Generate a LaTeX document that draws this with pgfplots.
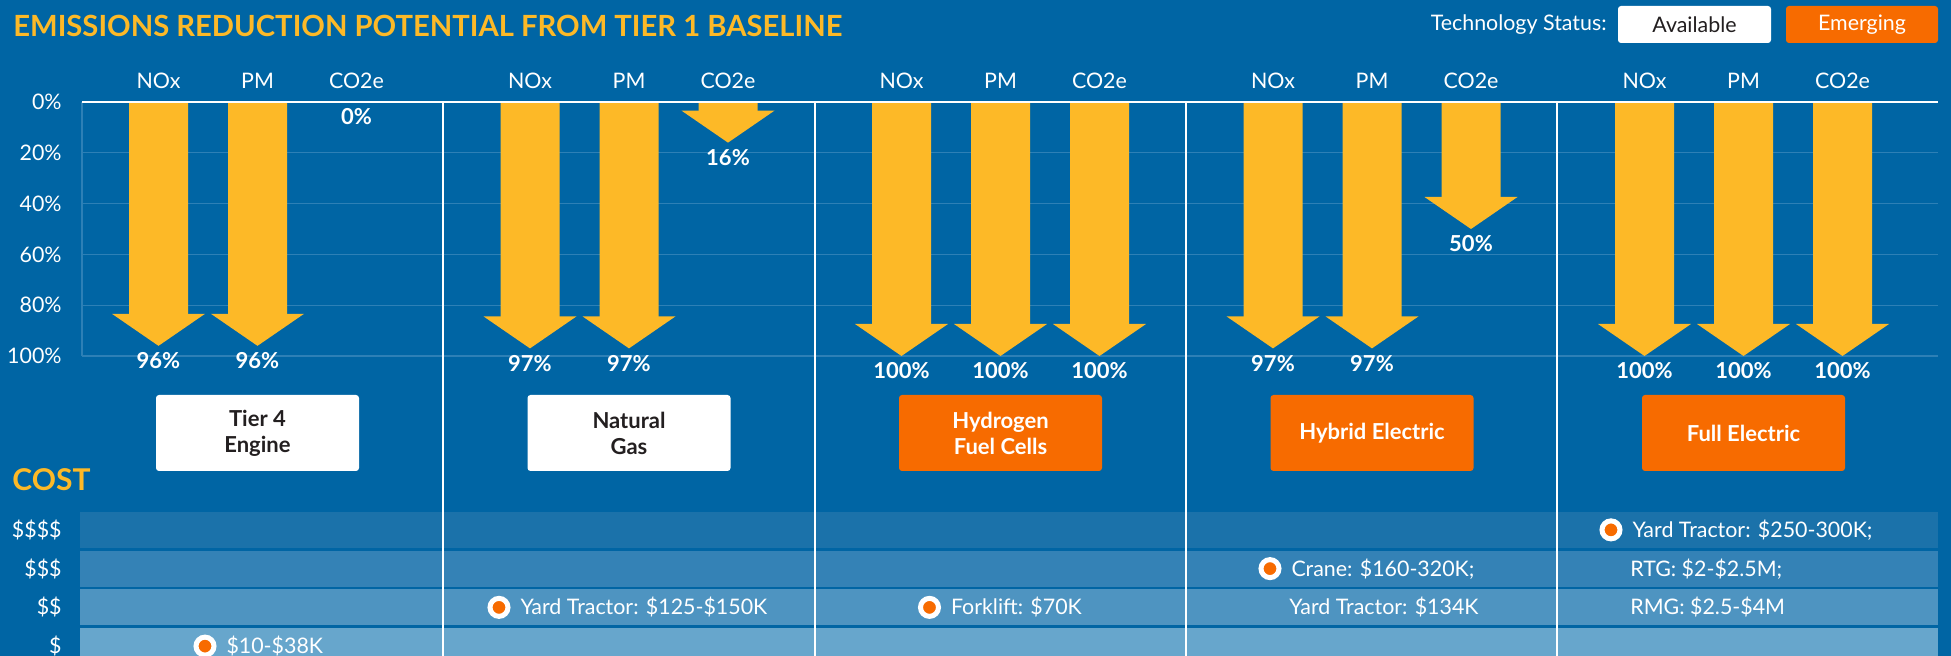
\documentclass[border=0pt]{standalone}
\usepackage{pgfplots}
\pgfplotsset{compat=1.18}
\usepackage{pgfplotstable}
\usepackage{fontspec}
\setmainfont{Lato}
\definecolor{bgblue}{RGB}{0,101,164}
\definecolor{ayellow}{RGB}{253,185,39}
\definecolor{aorange}{RGB}{247,107,0}
\definecolor{darktext}{RGB}{35,31,32}
\definecolor{gridc}{RGB}{45,128,182}
\definecolor{bandA}{RGB}{27,114,170}
\definecolor{bandB}{RGB}{52,130,182}
\definecolor{bandC}{RGB}{78,148,193}
\definecolor{bandD}{RGB}{103,166,204}

\pgfdeclareplotmark{dnhead}{%
  \pgfpathmoveto{\pgfqpoint{-23.25pt}{16pt}}%
  \pgfpathlineto{\pgfqpoint{23.25pt}{16pt}}%
  \pgfpathlineto{\pgfqpoint{0pt}{0pt}}%
  \pgfpathclose
  \pgfusepathqfill}

% g = technology group, m = pollutant (0 NOx, 1 PM, 2 CO2e), v = reduction in %
\pgfplotstableread{
g m v
0 0 96
0 1 96
0 2 0
1 0 97
1 1 97
1 2 16
2 0 100
2 1 100
2 2 100
3 0 97
3 1 97
3 2 50
4 0 100
4 1 100
4 2 100
}\emissions

\newcommand{\semi}{;}
% cost level: 1 = $, 4 = $$$$
\pgfplotstableread[col sep=comma]{
x,y,lab
205,1,\$10-\$38K
499,2,Yard Tractor: \$125-\$150K
929.5,2,Forklift: \$70K
1270,3,Crane: \$160-320K\semi
1611,4,Yard Tractor: \$250-300K\semi
}\costmarked
\pgfplotstableread[col sep=comma]{
x,y,lab
1270,2,Yard Tractor: \$134K
1611,3,RTG: \$2-\$2.5M\semi
1611,2,RMG: \$2.5-\$4M
}\costtext

\newcommand{\smallf}{\fontsize{10.7}{12.8}\selectfont}
\newcommand{\boldf}{\bfseries\fontsize{11}{13}\selectfont}

\begin{document}
\begin{tikzpicture}
\begin{scope}[x=0.5pt,y=-0.5pt]
\fill[bgblue] (0,0) rectangle (1951,656);
\end{scope}

% ---------- emissions axis ----------
\begin{axis}[
  at={(41pt,-51pt)}, anchor=north west,
  scale only axis, width=928pt, height=127pt,
  xmin=82, xmax=1938, ymin=0, ymax=100, y dir=reverse,
  clip=false,
  axis line style={draw=none},
  tick style={draw=none},
  ytick={0,20,40,60,80,100},
  yticklabels={0\%,20\%,40\%,60\%,80\%,100\%},
  yticklabel style={anchor=east, inner sep=0pt, xshift=-10pt, text=white, font=\smallf},
  ymajorgrids, grid style={gridc, line width=0.6pt},
  xtick={158.5,257.5,356.5,530,629,728,901.5,1000.5,1099.5,1273,1372,1471,1644.5,1743.5,1842.5},
  xticklabels={NOx,PM,CO2e,NOx,PM,CO2e,NOx,PM,CO2e,NOx,PM,CO2e,NOx,PM,CO2e},
  xticklabel pos=upper,
  xticklabel style={anchor=base, inner sep=0pt, yshift=6.75pt, text=white, font=\smallf},
]
\draw[gridc, line width=0.6pt] (axis cs:82,0) -- (axis cs:82,100);
% shafts
\addplot[ybar, bar width=29.5pt, bar shift=0pt, fill=ayellow, draw=none,
  restrict y to domain=0:200]
  table[x expr=158.5+371.5*\thisrow{g}+99*\thisrow{m}, y expr=\thisrow{v}-12.4] {\emissions};
% heads
\addplot[only marks, mark=dnhead, mark options={fill=ayellow, draw=none},
  restrict y to domain=0.5:200]
  table[x expr=158.5+371.5*\thisrow{g}+99*\thisrow{m}, y=v] {\emissions};
% labels
\addplot[draw=none, mark=none, point meta=explicit symbolic,
  nodes near coords={\pgfplotspointmeta\%},
  nodes near coords style={anchor=center, inner sep=0pt, yshift=-7.5pt, text=white, font=\boldf}]
  table[x expr=158.5+371.5*\thisrow{g}+99*\thisrow{m}, y=v, meta=v] {\emissions};
\end{axis}

% ---------- cost axis ----------
\begin{axis}[
  at={(40pt,-255.25pt)}, anchor=north west,
  scale only axis, width=929pt, height=77.5pt,
  xmin=80, xmax=1938, ymin=0.5, ymax=4.5,
  clip=false,
  axis line style={draw=none},
  tick style={draw=none},
  xtick=\empty,
  ytick={1,2,3,4},
  yticklabels={\$,\$\$,\$\$\$,\$\$\$\$},
  yticklabel style={anchor=east, inner sep=0pt, xshift=-9pt, text=white, font=\smallf},
]
\fill[bandA] (axis cs:80,3.5385) rectangle (axis cs:1938,4.4615);
\fill[bandB] (axis cs:80,2.5385) rectangle (axis cs:1938,3.4615);
\fill[bandC] (axis cs:80,1.5385) rectangle (axis cs:1938,2.4615);
\fill[bandD] (axis cs:80,0.5385) rectangle (axis cs:1938,1.4615);
\addplot[only marks, mark=*, mark size=4.5pt,
  mark options={fill=aorange, draw=white, line width=2.5pt},
  point meta=explicit symbolic, nodes near coords,
  nodes near coords style={anchor=base west, inner sep=0pt, xshift=9.5pt, yshift=-3.8pt, text=white, font=\smallf}]
  table[x=x, y=y, meta=lab] {\costmarked};
\addplot[draw=none, mark=none,
  point meta=explicit symbolic, nodes near coords,
  nodes near coords style={anchor=base west, inner sep=0pt, xshift=9.5pt, yshift=-3.8pt, text=white, font=\smallf}]
  table[x=x, y=y, meta=lab] {\costtext};
\end{axis}

% ---------- decorations ----------
\begin{scope}[x=0.5pt,y=-0.5pt]
\draw[white, line width=1pt] (82,102) -- (1938,102);
\foreach \xx in {443,815,1186,1557} \draw[white, line width=1pt] (\xx,102) -- (\xx,656);
\node[anchor=west, inner sep=0pt, text=ayellow, font=\bfseries\fontsize{14.6}{17.5}\selectfont] at (13,26) {EMISSIONS REDUCTION POTENTIAL FROM TIER 1 BASELINE};
\node[anchor=west, inner sep=0pt, text=ayellow, font=\bfseries\fontsize{15}{18}\selectfont] at (12,480) {COST};
% legend
\node[anchor=east, inner sep=0pt, text=white, font=\smallf] at (1607,25) {Technology Status:};
\node[fill=white, rounded corners=1.5pt, minimum width=76.5pt, minimum height=18.5pt, inner sep=0pt, text=darktext, font=\smallf] at (1694.5,24.5) {Available};
\node[fill=aorange, rounded corners=1.5pt, minimum width=76pt, minimum height=18.5pt, inner sep=0pt, text=white, font=\smallf] at (1862,24.5) {Emerging};
% category boxes
\tikzset{catbox/.style={rounded corners=1.5pt, minimum width=101.5pt, minimum height=38pt, inner sep=0pt, align=center, font=\boldf}}
\node[catbox, fill=white, text=darktext] at (257.5,433) {Tier 4\\Engine};
\node[catbox, fill=white, text=darktext] at (629,433) {Natural\\Gas};
\node[catbox, fill=aorange, text=white] at (1000.5,433) {Hydrogen\\Fuel Cells};
\node[catbox, fill=aorange, text=white] at (1372,433) {Hybrid Electric};
\node[catbox, fill=aorange, text=white] at (1743.5,433) {Full Electric};
\end{scope}
\pgfresetboundingbox
\path[use as bounding box] (0,0) rectangle (975.5pt,-328pt);
\end{tikzpicture}
\end{document}
